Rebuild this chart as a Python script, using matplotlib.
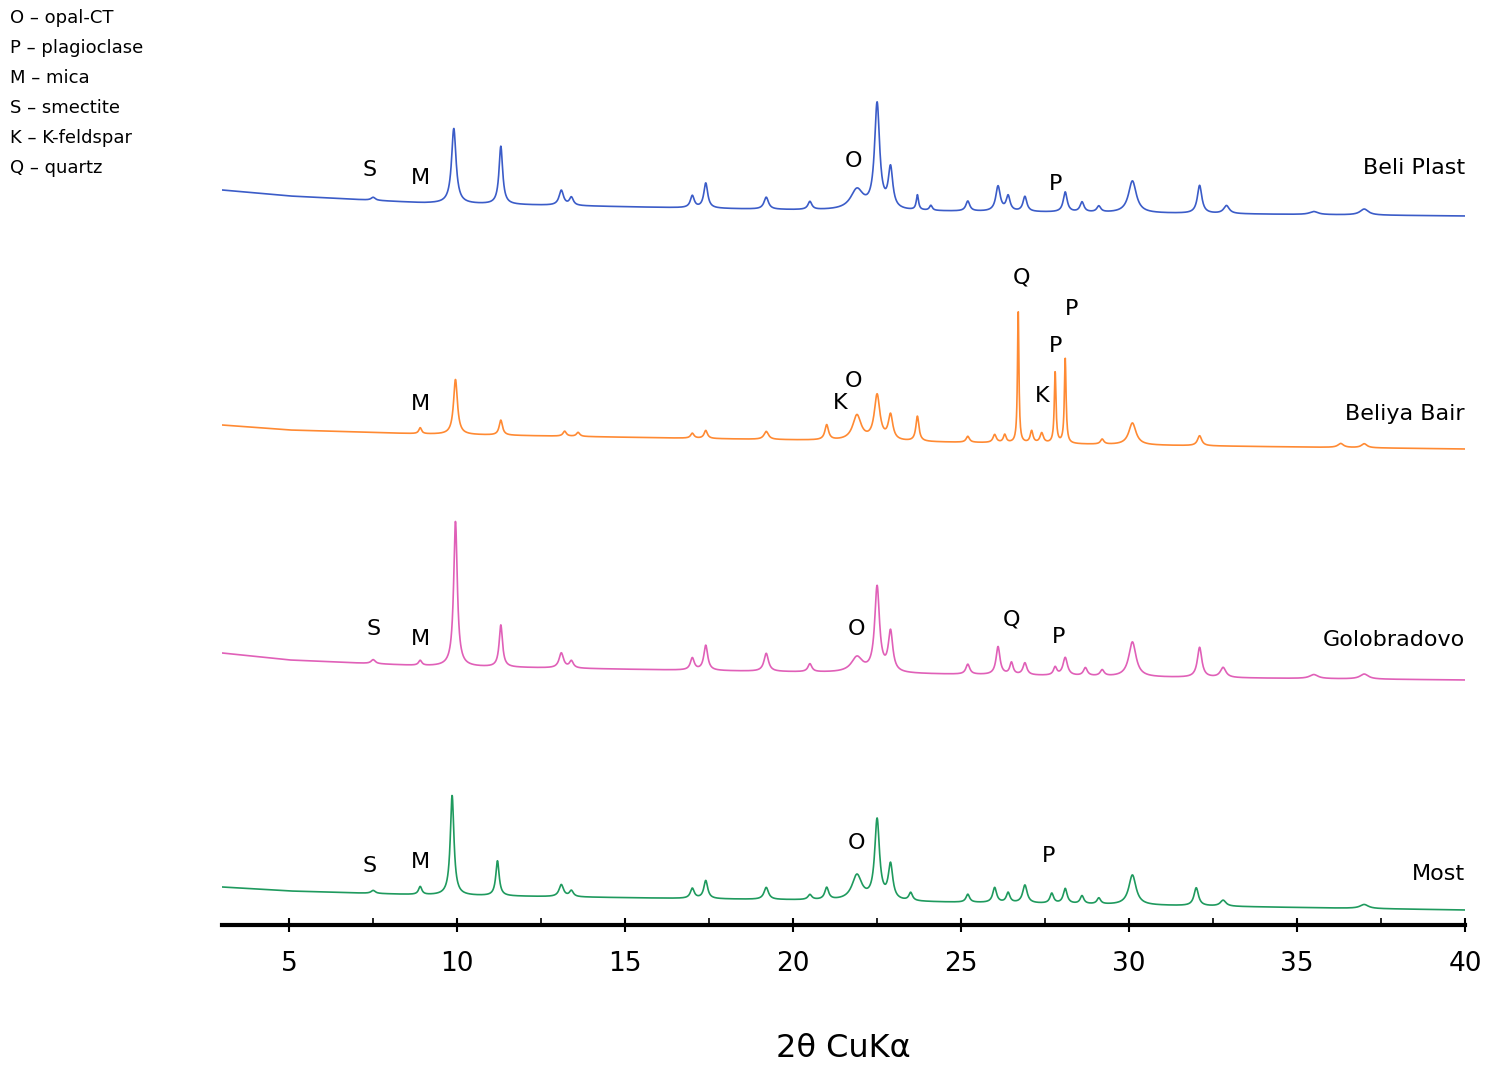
import numpy as np
import matplotlib
matplotlib.use("Agg")
import matplotlib.pyplot as plt

names = ["Beli Plast", "Beliya Bair", "Golobradovo", "Most"]
colors = ["#3b5cc8", "#ff8a33", "#e060b8", "#1f9a5e"]

# baseline anchor angles and pixel heights (y measured downward in px)
base_x = [3, 5, 9, 20, 30, 40]
base_y = [
    [190, 196, 203, 210, 213, 216],
    [425, 430, 434, 440, 445, 449],
    [653, 660, 666, 672, 677, 680],
    [887, 891, 895, 900, 905, 910],
]

# peaks: position (2θ), height (px), width (deg)
peaks = [
    [(7.5, 3, .15), (9.9, 75, .16), (11.3, 58, .13), (13.1, 15, .16), (13.4, 8, .14), (17.0, 12, .14),
     (17.4, 25, .14), (19.2, 12, .16), (20.5, 8, .14), (21.9, 20, .45), (22.5, 105, .18), (22.9, 40, .16),
     (23.7, 15, .08), (24.1, 5, .1), (25.2, 10, .14), (26.1, 25, .16), (26.4, 15, .14), (26.9, 15, .14),
     (28.1, 20, .14), (28.6, 10, .14), (29.1, 6, .14), (30.1, 32, .28), (32.1, 28, .16), (32.9, 8, .2),
     (35.5, 3, .3), (37.0, 6, .3)],
    [(8.9, 6, .1), (9.95, 55, .14), (11.3, 15, .12), (13.2, 5, .12), (13.6, 4, .12), (17.0, 5, .12),
     (17.4, 8, .12), (19.2, 8, .16), (21.0, 15, .13), (21.9, 25, .3), (22.5, 45, .2), (22.9, 25, .16),
     (23.7, 25, .11), (25.2, 6, .12), (26.0, 8, .12), (26.3, 8, .1), (26.7, 135, .05), (27.1, 12, .1),
     (27.4, 10, .12), (27.8, 72, .06), (28.1, 85, .06), (29.2, 5, .12), (30.1, 22, .26), (32.1, 10, .15),
     (36.3, 4, .2), (37.0, 4, .2)],
    [(7.5, 4, .15), (8.9, 5, .12), (9.95, 145, .13), (11.3, 42, .12), (13.1, 15, .16), (13.4, 7, .14),
     (17.0, 12, .14), (17.4, 25, .14), (19.2, 18, .16), (20.5, 8, .14), (21.9, 15, .4), (22.5, 85, .17),
     (22.9, 40, .16), (25.2, 10, .14), (26.1, 28, .14), (26.5, 12, .12), (26.9, 12, .14), (27.8, 8, .12),
     (28.1, 18, .16), (28.7, 8, .14), (29.2, 6, .14), (30.1, 35, .26), (32.1, 30, .16), (32.8, 10, .2),
     (35.5, 4, .3), (37.0, 5, .3)],
    [(7.5, 3, .15), (8.9, 8, .12), (9.85, 100, .13), (11.2, 35, .12), (13.1, 12, .16), (13.4, 6, .14),
     (17.0, 10, .14), (17.4, 18, .14), (19.2, 12, .16), (20.5, 5, .14), (21.0, 12, .14), (21.9, 25, .35),
     (22.5, 80, .17), (22.9, 35, .16), (23.5, 8, .13), (25.2, 8, .13), (26.0, 15, .14), (26.4, 10, .13),
     (26.9, 18, .16), (27.7, 10, .13), (28.1, 15, .14), (28.6, 8, .13), (29.1, 6, .13), (30.1, 30, .26),
     (32.0, 18, .16), (32.8, 6, .2), (37.0, 4, .3)],
]

labels = [
    [("S", 7.4, 170), ("M", 8.9, 178), ("O", 21.8, 161), ("P", 27.8, 184)],
    [("M", 8.9, 404), ("K", 21.4, 403), ("O", 21.8, 381), ("Q", 26.8, 277), ("P", 27.8, 346),
     ("K", 27.4, 396), ("P", 28.3, 309)],
    [("S", 7.5, 629), ("M", 8.9, 639), ("O", 21.9, 629), ("Q", 26.5, 619), ("P", 27.9, 637)],
    [("S", 7.4, 866), ("M", 8.9, 862), ("O", 21.9, 843), ("P", 27.6, 856)],
]
name_y = [168, 414, 640, 874]

legend_lines = ["O – opal-CT", "P – plagioclase", "M – mica", "S – smectite", "K – K-feldspar", "Q – quartz"]

fig = plt.figure(figsize=(14.97, 10.7), dpi=100)
ax = fig.add_axes([222/1497, 145/1070, 1243/1497, 925/1070])
x = np.linspace(3, 40, 4000)
for i in range(4):
    y = np.interp(x, base_x, base_y[i]).astype(float)
    for p, h, w in peaks[i]:
        y = y - h / (1 + ((x - p) / (w / 2)) ** 2)
    ax.plot(x, -y, color=colors[i], lw=1.2)
    for t, lx, ly in labels[i]:
        ax.text(lx, -ly, t, fontsize=16, ha="center", va="center")
    ax.text(40, -name_y[i], names[i], fontsize=16, ha="right", va="center")

for s in ["top", "right", "left"]:
    ax.spines[s].set_visible(False)
ax.spines["bottom"].set_linewidth(3)
ax.set_yticks([])
ax.set_xticks(range(5, 41, 5))
ax.set_xticks(np.arange(7.5, 40.1, 5), minor=True)
ax.set_xlim(3, 40)
ax.set_ylim(-925, 0)
ax.tick_params(axis="x", which="major", direction="inout", length=10, width=1.5, labelsize=19, pad=14)
ax.tick_params(axis="x", which="minor", direction="in", length=5, width=1.2)
ax.set_xlabel("2θ CuKα", fontsize=23, labelpad=40)

for k, t in enumerate(legend_lines):
    fig.text(10/1497, 1 - (18 + 30*k)/1070, t, fontsize=13, va="center", ha="left")

fig.savefig("out.png", dpi=100)
